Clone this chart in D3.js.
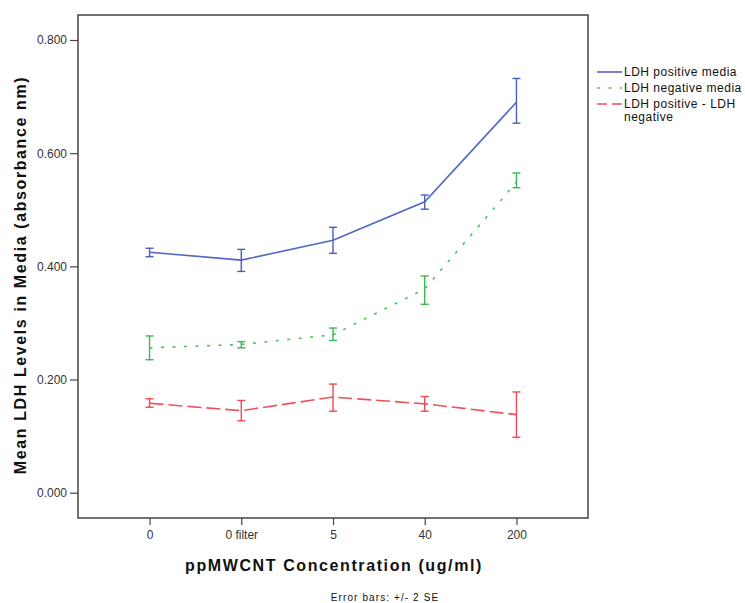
<!DOCTYPE html>
<html>
<head>
<meta charset="utf-8">
<script src="https://cdn.jsdelivr.net/npm/d3@7"></script>
<style>
  body { margin: 0; background: #fff; }
  text { font-family: "Liberation Sans", Arial, sans-serif; }
</style>
</head>
<body>
<script>
// categories on the x axis
var categories = ['0', '0 filter', '5', '40', '200'];

// means and +/- 2 SE limits for each series
var posMean = [0.425, 0.411, 0.446, 0.514, 0.690];
var posLow  = [0.417, 0.391, 0.423, 0.501, 0.653];
var posHigh = [0.432, 0.430, 0.469, 0.526, 0.732];

var negMean = [0.256, 0.262, 0.279, 0.360, 0.549];
var negLow  = [0.235, 0.256, 0.269, 0.333, 0.539];
var negHigh = [0.277, 0.267, 0.291, 0.383, 0.565];

var diffMean = [0.158, 0.145, 0.169, 0.157, 0.138];
var diffLow  = [0.151, 0.127, 0.144, 0.144, 0.098];
var diffHigh = [0.166, 0.163, 0.192, 0.170, 0.178];

var yTicks = [0, 0.2, 0.4, 0.6, 0.8];

var series = [
  { name: 'LDH positive media', mean: posMean, low: posLow, high: posHigh, color: '#5266c2', bar: '#4a5fbd', dash: null },
  { name: 'LDH negative media', mean: negMean, low: negLow, high: negHigh, color: '#4cc35e', bar: '#3bb84e', dash: '3,8.5' },
  { name: 'LDH positive - LDH negative', mean: diffMean, low: diffLow, high: diffHigh, color: '#ef5059', bar: '#ee4a53', dash: '14,5' }
];

// plot frame
var box = { left: 78, top: 15, right: 588, bottom: 518 };

var svg = d3.select('body').append('svg')
  .attr('width', 745)
  .attr('height', 603);

var x = d3.scalePoint().domain(categories).range([box.left, box.right]).padding(0.78);
var y = d3.scaleLinear().domain([0, 0.8]).range([492.7, 40]);

// frame
svg.append('rect')
  .attr('x', box.left).attr('y', box.top)
  .attr('width', box.right - box.left).attr('height', box.bottom - box.top)
  .attr('fill', 'none').attr('stroke', '#454545').attr('stroke-width', 1.5);

// y axis
var yAxis = d3.axisLeft(y).tickValues(yTicks).tickFormat(d3.format('.3f')).tickSize(8).tickPadding(3);
var gy = svg.append('g').attr('transform', 'translate(' + box.left + ',0)').call(yAxis);
gy.select('.domain').remove();
gy.selectAll('.tick line').attr('stroke', '#454545').attr('stroke-width', 1.2);
gy.selectAll('.tick text').attr('font-size', 12).attr('fill', '#333').attr('font-family', '"Liberation Sans", Arial, sans-serif');

// x axis
var xAxis = d3.axisBottom(x).tickSize(7).tickPadding(5);
var gx = svg.append('g').attr('transform', 'translate(0,' + box.bottom + ')').call(xAxis);
gx.select('.domain').remove();
gx.selectAll('.tick line').attr('stroke', '#454545').attr('stroke-width', 1.2);
gx.selectAll('.tick text').attr('font-size', 12).attr('fill', '#333').attr('font-family', '"Liberation Sans", Arial, sans-serif');

// lines and error bars
var line = d3.line()
  .x(function(d, i) { return x(categories[i]); })
  .y(function(d) { return y(d); });

series.forEach(function(s) {
  svg.append('path')
    .datum(s.mean)
    .attr('d', line)
    .attr('fill', 'none')
    .attr('stroke', s.color)
    .attr('stroke-width', 1.6)
    .attr('stroke-dasharray', s.dash);

  var g = svg.append('g').attr('stroke', s.bar).attr('stroke-width', 1.4);
  categories.forEach(function(c, i) {
    var cx = x(c);
    g.append('line').attr('x1', cx).attr('x2', cx).attr('y1', y(s.low[i])).attr('y2', y(s.high[i]));
    g.append('line').attr('x1', cx - 4).attr('x2', cx + 4).attr('y1', y(s.low[i])).attr('y2', y(s.low[i]));
    g.append('line').attr('x1', cx - 4).attr('x2', cx + 4).attr('y1', y(s.high[i])).attr('y2', y(s.high[i]));
  });
});

// legend
var legend = svg.append('g').attr('transform', 'translate(597,72)');
var legendLines = [['LDH positive media'], ['LDH negative media'], ['LDH positive - LDH', 'negative']];
var rowY = 0;
series.forEach(function(s, i) {
  legend.append('line')
    .attr('x1', 0).attr('x2', 25).attr('y1', rowY).attr('y2', rowY)
    .attr('stroke', s.color).attr('stroke-width', 1.6)
    .attr('stroke-dasharray', s.dash === '14,5' ? '10,5' : s.dash);
  var t = legend.append('text')
    .attr('x', 27).attr('y', rowY + 4)
    .attr('font-size', 12).attr('fill', '#111')
    .attr('letter-spacing', 0.5);
  legendLines[i].forEach(function(l, j) {
    t.append('tspan').attr('x', 27).attr('dy', j === 0 ? 0 : 13).text(l);
  });
  rowY += 16;
});

// axis titles
svg.append('text')
  .attr('transform', 'translate(26,275) rotate(-90)')
  .attr('text-anchor', 'middle')
  .attr('font-size', 16).attr('font-weight', 'bold').attr('fill', '#111')
  .attr('letter-spacing', 1.6)
  .text('Mean LDH Levels in Media (absorbance nm)');

svg.append('text')
  .attr('x', 334).attr('y', 571)
  .attr('text-anchor', 'middle')
  .attr('font-size', 16).attr('font-weight', 'bold').attr('fill', '#111')
  .attr('letter-spacing', 1.6)
  .text('ppMWCNT Concentration (ug/ml)');

svg.append('text')
  .attr('x', 385).attr('y', 601)
  .attr('text-anchor', 'middle')
  .attr('font-size', 10).attr('fill', '#111')
  .attr('letter-spacing', 1.1)
  .text('Error bars: +/- 2 SE');
</script>
</body>
</html>
